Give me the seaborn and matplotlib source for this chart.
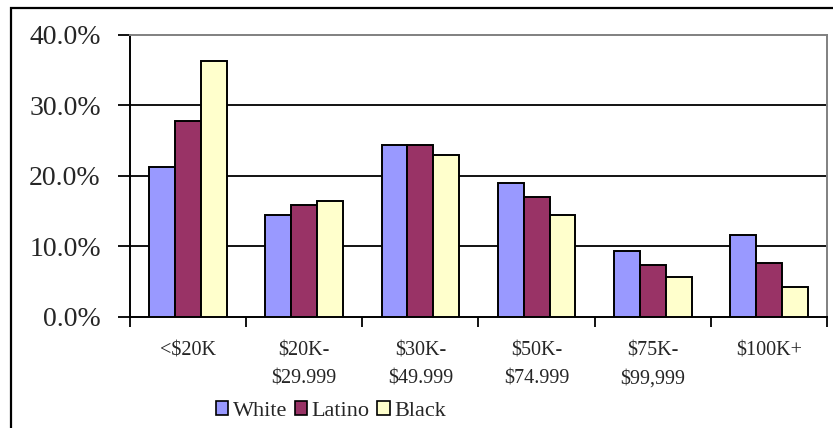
import matplotlib
matplotlib.use("Agg")
import matplotlib.pyplot as plt
import matplotlib.patches as mpatches
import seaborn as sns
import pandas as pd

# Income brackets and share of households per group (%)
categories = ["<\\$20K", "\\$20K-\n\\$29.999", "\\$30K-\n\\$49.999",
              "\\$50K-\n\\$74.999", "\\$75K-\n\\$99,999", "\\$100K+"]
groups = ["White", "Latino", "Black"]
white = [21.3, 14.4, 24.4, 19.0, 9.3, 11.6]
latino = [27.8, 15.9, 24.4, 17.0, 7.3, 7.6]
black = [36.3, 16.4, 23.0, 14.4, 5.6, 4.2]
colors = ["#9999FF", "#993366", "#FFFFCC"]

df = pd.DataFrame({
    "bracket": categories * 3,
    "group": [g for g in groups for _ in categories],
    "share": white + latino + black,
})

sns.set_style("white")
plt.rcParams["font.family"] = ["Liberation Serif", "DejaVu Serif"]

fig = plt.figure(figsize=(8.33, 4.28), dpi=100)
ax = fig.add_axes([130 / 833, 1 - 316.7 / 428, 697 / 833, (316.7 - 35) / 428])

sns.barplot(data=df, x="bracket", y="share", hue="group", order=categories,
            hue_order=groups, palette=colors, width=0.67, edgecolor="black",
            linewidth=1.4, saturation=1, ax=ax, legend=False, zorder=3)

ax.set_ylim(0, 40)
ax.set_xlim(-0.5, len(categories) - 0.5)
ax.set_yticks([0, 10, 20, 30, 40])
ax.set_yticklabels([f"{v:.1f}%" for v in [0, 10, 20, 30, 40]], fontsize=20)
for v in [10, 20, 30]:
    ax.axhline(v, color="black", lw=1.3, zorder=1)

# category boundaries as tick marks, labels centred under each group
ax.set_xticks([i - 0.5 for i in range(len(categories) + 1)])
ax.set_xticklabels([])
ax.set_xticks(range(len(categories)), minor=True)
ax.set_xticklabels(categories, minor=True, fontsize=14.5, linespacing=1.6,
                   va="top")
ax.tick_params(axis="x", which="major", direction="out", length=7, width=1.3,
               color="black", bottom=True)
ax.tick_params(axis="x", which="minor", length=0, pad=18)
ax.tick_params(axis="y", direction="out", length=9, width=1.3, color="black",
               left=True, pad=12)
ax.set_xlabel("")
ax.set_ylabel("")

for side in ["left", "bottom"]:
    ax.spines[side].set_color("black")
    ax.spines[side].set_linewidth(1.4)
for side in ["top", "right"]:
    ax.spines[side].set_color("#808080")
    ax.spines[side].set_linewidth(1.4)

handles = [mpatches.Patch(facecolor=c, edgecolor="black", linewidth=1.2, label=g)
           for c, g in zip(colors, groups)]
fig.legend(handles=handles, loc="center", bbox_to_anchor=(331 / 833, 1 - 411 / 428),
           ncol=3, frameon=False, fontsize=16, handlelength=0.55, handleheight=0.55,
           handletextpad=0.2, columnspacing=0.35, borderpad=0)

# outer chart frame
frame = mpatches.Rectangle((11 / 833, -0.1), 1.2, 1.1 - 8 / 428,
                           transform=fig.transFigure, fill=False,
                           edgecolor="black", linewidth=1.6, clip_on=False)
fig.patches.append(frame)

fig.savefig("out.png", dpi=100)
